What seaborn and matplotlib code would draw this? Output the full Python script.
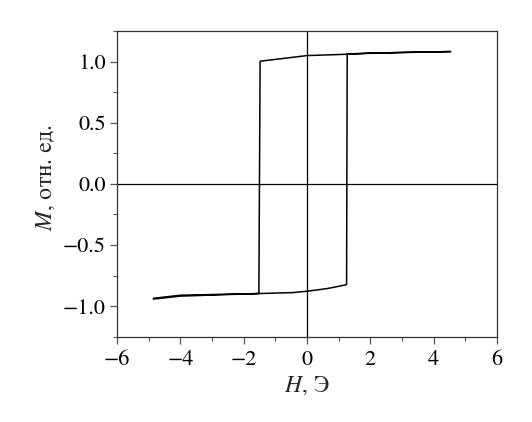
import matplotlib

matplotlib.use("Agg")

import matplotlib.pyplot as plt
import pandas as pd
import seaborn as sns
from matplotlib.ticker import MultipleLocator

# hysteresis loop, traced in order: lower branch up, then upper branch back
H_VALUES = [-4.85, -4.01, -3.0, -2.0, -1.52, -0.43, 0.0, 0.62, 1.0, 1.25,
            1.27, 2.0, 3.0, 4.54,
            3.0, 2.0, 1.25, 0.0, -1.48,
            -1.52, -2.5, -4.0, -4.85]
M_VALUES = [-0.936, -0.911, -0.905, -0.900, -0.897, -0.889, -0.878, -0.857, -0.838, -0.824,
            1.063, 1.068, 1.074, 1.082,
            1.075, 1.069, 1.060, 1.049, 1.003,
            -0.897, -0.905, -0.918, -0.942]

X_TICKS = [-6, -4, -2, 0, 2, 4, 6]
Y_TICKS = [-1.0, -0.5, 0.0, 0.5, 1.0]


def main() -> None:
    sns.set_theme(style="ticks")
    plt.rcParams["font.family"] = ["STIXGeneral", "Liberation Serif", "DejaVu Serif"]
    plt.rcParams["mathtext.fontset"] = "stix"
    plt.rcParams["axes.unicode_minus"] = True

    df = pd.DataFrame({"H": H_VALUES, "M": M_VALUES})

    fig = plt.figure(figsize=(5.32, 4.22), dpi=100)
    ax = fig.add_axes([0.2199, 0.2021, 0.7143, 0.7244])

    ax.axhline(0, color="black", linewidth=0.9, zorder=1)
    ax.axvline(0, color="black", linewidth=0.9, zorder=1)
    sns.lineplot(data=df, x="H", y="M", sort=False, estimator=None,
                 color="black", linewidth=1.1, ax=ax, zorder=2)

    ax.set_xlim(-6, 6)
    ax.set_ylim(-1.25, 1.25)
    ax.set_xticks(X_TICKS)
    ax.set_yticks(Y_TICKS)
    ax.set_xticklabels([f"{t:d}".replace("-", "\u2212") for t in X_TICKS])
    ax.set_yticklabels([f"{t:.1f}".replace("-", "\u2212") for t in Y_TICKS])
    ax.xaxis.set_minor_locator(MultipleLocator(1))
    ax.yaxis.set_minor_locator(MultipleLocator(0.25))

    ax.tick_params(which="major", direction="out", length=5, width=0.9,
                   color="#555555", labelsize=16, labelcolor="black")
    ax.tick_params(axis="x", which="major", pad=5)
    ax.tick_params(axis="y", which="major", pad=3)
    ax.tick_params(which="minor", direction="out", length=3, width=0.8, color="#555555")
    for spine in ax.spines.values():
        spine.set_visible(True)
        spine.set_color("#333333")
        spine.set_linewidth(0.9)

    ax.set_xlabel(r"$H$, Э", fontsize=17, labelpad=3)
    ax.set_ylabel(r"$M$, отн. ед.", fontsize=17, labelpad=4)
    # label in the reference sits a little above the axis centre
    ax.yaxis.label.set_y(0.52)

    fig.savefig("out.png", dpi=100, facecolor="white")
    plt.close(fig)


if __name__ == "__main__":
    main()
